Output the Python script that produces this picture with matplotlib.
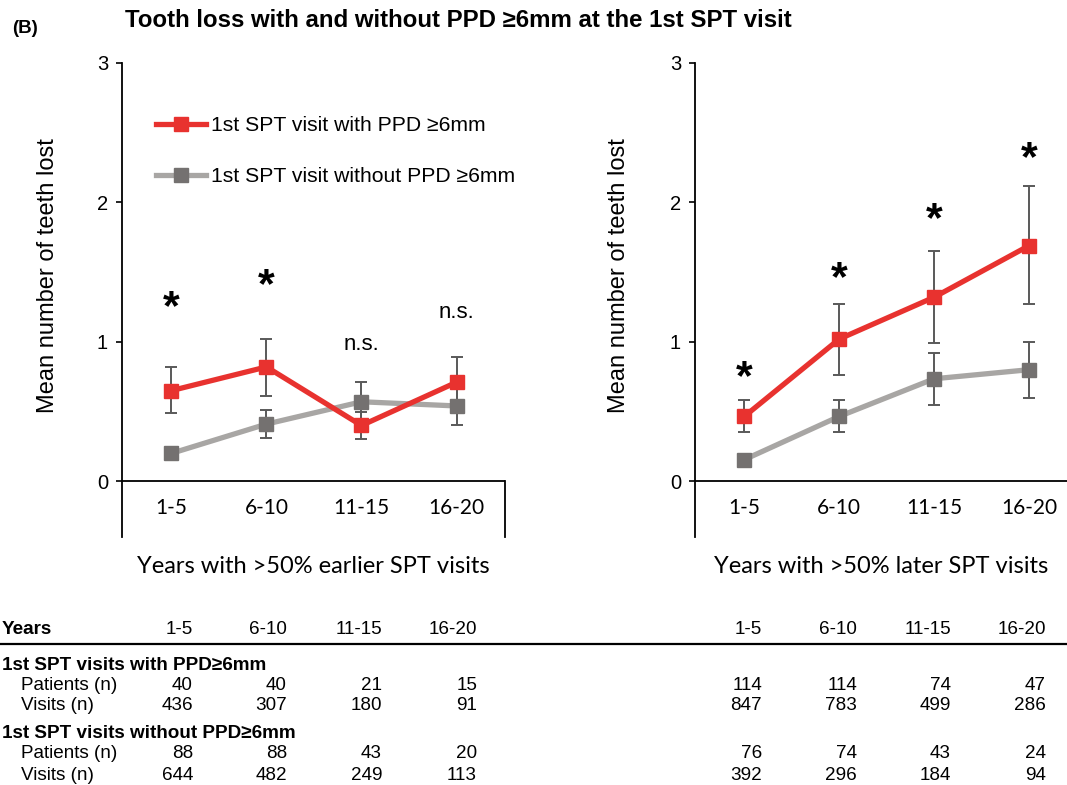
import matplotlib

matplotlib.use("Agg")
import matplotlib.pyplot as plt
import numpy as np

plt.rcParams["font.family"] = ["Liberation Sans", "DejaVu Sans"]

CATEGORIES = ["1-5", "6-10", "11-15", "16-20"]

# left panel: years with >50% earlier SPT visits
RED_MEAN_L = [0.65, 0.82, 0.40, 0.71]
RED_LO_L = [0.49, 0.61, 0.30, 0.53]
RED_HI_L = [0.82, 1.02, 0.50, 0.89]
GREY_MEAN_L = [0.20, 0.41, 0.57, 0.54]
GREY_LO_L = [0.18, 0.31, 0.43, 0.40]
GREY_HI_L = [0.23, 0.51, 0.71, 0.68]
SIG_L = ["*", "*", "n.s.", "n.s."]
SIG_Y_L = [1.31, 1.47, 0.98, 1.21]

# right panel: years with >50% later SPT visits
RED_MEAN_R = [0.465, 1.02, 1.32, 1.69]
RED_LO_R = [0.35, 0.76, 0.99, 1.27]
RED_HI_R = [0.58, 1.27, 1.65, 2.12]
GREY_MEAN_R = [0.155, 0.465, 0.735, 0.80]
GREY_LO_R = [0.14, 0.35, 0.55, 0.60]
GREY_HI_R = [0.17, 0.58, 0.92, 1.00]
SIG_R = ["*", "*", "*", "*"]
SIG_Y_R = [0.81, 1.52, 1.94, 2.38]

LEGEND_LABELS = ["1st SPT visit with PPD \u22656mm", "1st SPT visit without PPD \u22656mm"]

# table below the panels
WITH_PATIENTS_L = [40, 40, 21, 15]
WITH_VISITS_L = [436, 307, 180, 91]
WITHOUT_PATIENTS_L = [88, 88, 43, 20]
WITHOUT_VISITS_L = [644, 482, 249, 113]
WITH_PATIENTS_R = [114, 114, 74, 47]
WITH_VISITS_R = [847, 783, 499, 286]
WITHOUT_PATIENTS_R = [76, 74, 43, 24]
WITHOUT_VISITS_R = [392, 296, 184, 94]

RED = "#e8322f"
GREY_LINE = "#a8a6a4"
GREY_MARK = "#747170"
ERR = "#595959"

W, H = 1067, 785
STAR_FS = 31


def fy(y_px):
    return 1 - y_px / H


def draw_panel(ax, red, red_lo, red_hi, grey, grey_lo, grey_hi, sig, sig_y, xlabel, right_edge):
    x = np.arange(len(CATEGORIES))
    for mean, lo, hi, lc, mc in [
        (grey, grey_lo, grey_hi, GREY_LINE, GREY_MARK),
        (red, red_lo, red_hi, RED, RED),
    ]:
        mean = np.asarray(mean)
        yerr = [mean - np.asarray(lo), np.asarray(hi) - mean]
        ax.errorbar(x, mean, yerr=yerr, fmt="none", ecolor=ERR, elinewidth=1.4,
                    capsize=4.5, capthick=1.4, zorder=3)
        ax.plot(x, mean, color=lc, lw=3.8, marker="s", markersize=9.5,
                markerfacecolor=mc, markeredgecolor=mc, zorder=4)

    for xi, s, yi in zip(x, sig, sig_y):
        if s == "*":
            ax.annotate(s, (xi, yi), xytext=(0, -0.48 * STAR_FS), textcoords="offset points",
                        ha="center", va="baseline", fontsize=STAR_FS, fontweight="bold")
        else:
            ax.annotate(s, (xi, yi), xytext=(0, -4), textcoords="offset points",
                        ha="center", va="baseline", fontsize=16)

    for xi, lab in zip(x, CATEGORIES):
        ax.annotate(lab, (xi, 0), xytext=(0, -19), textcoords="offset points",
                    ha="center", va="center", fontsize=15, family="Lato")

    ax.set_ylim(-0.4, 3)
    ax.set_xlim(-0.52, right_edge)
    ax.set_yticks([0, 1, 2, 3])
    ax.set_xticks([])
    ax.tick_params(axis="y", direction="out", length=4, width=1.2, labelsize=14.5, pad=6)
    ax.axhline(0, color="black", lw=1.3, zorder=2)
    ax.spines["top"].set_visible(False)
    ax.spines["bottom"].set_visible(False)
    ax.spines["left"].set_linewidth(1.3)
    ax.spines["right"].set_linewidth(1.3)
    ax.spines["right"].set_bounds(-0.4, 0)
    ax.patch.set_alpha(0)
    ax.set_ylabel("Mean number of teeth lost", fontsize=17)
    ax.set_xlabel(xlabel, fontsize=17, family="Lato", labelpad=14)


fig = plt.figure(figsize=(W / 100, H / 100), dpi=100, facecolor="white")

ax_l = fig.add_axes([122 / W, fy(537), 383 / W, 474 / H])
ax_r = fig.add_axes([695 / W, fy(537), 372 / W, 474 / H])

draw_panel(ax_l, RED_MEAN_L, RED_LO_L, RED_HI_L, GREY_MEAN_L, GREY_LO_L, GREY_HI_L,
           SIG_L, SIG_Y_L, "Years with >50% earlier SPT visits", 3.51)
draw_panel(ax_r, RED_MEAN_R, RED_LO_R, RED_HI_R, GREY_MEAN_R, GREY_LO_R, GREY_HI_R,
           SIG_R, SIG_Y_R, "Years with >50% later SPT visits", 3.40)
ax_r.spines["right"].set_visible(False)
ax_l.yaxis.set_label_coords(-0.165, 0.551)
ax_r.yaxis.set_label_coords(-0.175, 0.551)

# legend (handles taken from the left panel lines)
lines = [l for l in ax_l.get_lines() if l.get_marker() == "s"]
ax_l.legend(lines[::-1], LEGEND_LABELS, loc="upper left", bbox_to_anchor=(0.088, 0.888),
            frameon=False, fontsize=15.2, handlelength=2.4, handletextpad=0.2,
            labelspacing=1.53, borderpad=0, borderaxespad=0, numpoints=1)

fig.text(12 / W, fy(33), "(B)", fontsize=13.5, fontweight="bold", va="baseline")
fig.text(125 / W, fy(27), "Tooth loss with and without PPD \u22656mm at the 1st SPT visit",
         fontsize=17.3, fontweight="bold", va="baseline")

# table
TFS = 13.6
col_l = [193, 287, 382, 477]
col_r = [762, 857, 951, 1046]
rows = [
    (627, "Years", True, CATEGORIES, CATEGORIES),
    (663, "1st SPT visits with PPD\u22656mm", True, None, None),
    (683.5, "Patients (n)", False, WITH_PATIENTS_L, WITH_PATIENTS_R),
    (704, "Visits (n)", False, WITH_VISITS_L, WITH_VISITS_R),
    (731, "1st SPT visits without PPD\u22656mm", True, None, None),
    (752, "Patients (n)", False, WITHOUT_PATIENTS_L, WITHOUT_PATIENTS_R),
    (774, "Visits (n)", False, WITHOUT_VISITS_L, WITHOUT_VISITS_R),
]
for y, label, bold, vals_l, vals_r in rows:
    base = fy(y + 6.5)
    fig.text((2 if bold else 21) / W, base, label, fontsize=TFS,
             fontweight="bold" if bold else "normal", va="baseline")
    if vals_l is None:
        continue
    for xr, v in zip(col_l, vals_l):
        fig.text(xr / W, base, str(v), fontsize=TFS, ha="right", va="baseline")
    for xr, v in zip(col_r, vals_r):
        fig.text(xr / W, base, str(v), fontsize=TFS, ha="right", va="baseline")

fig.add_artist(plt.Line2D([0, 1], [fy(643.5), fy(643.5)], color="black", lw=1.6))

fig.savefig("out.png", dpi=100, facecolor="white")
